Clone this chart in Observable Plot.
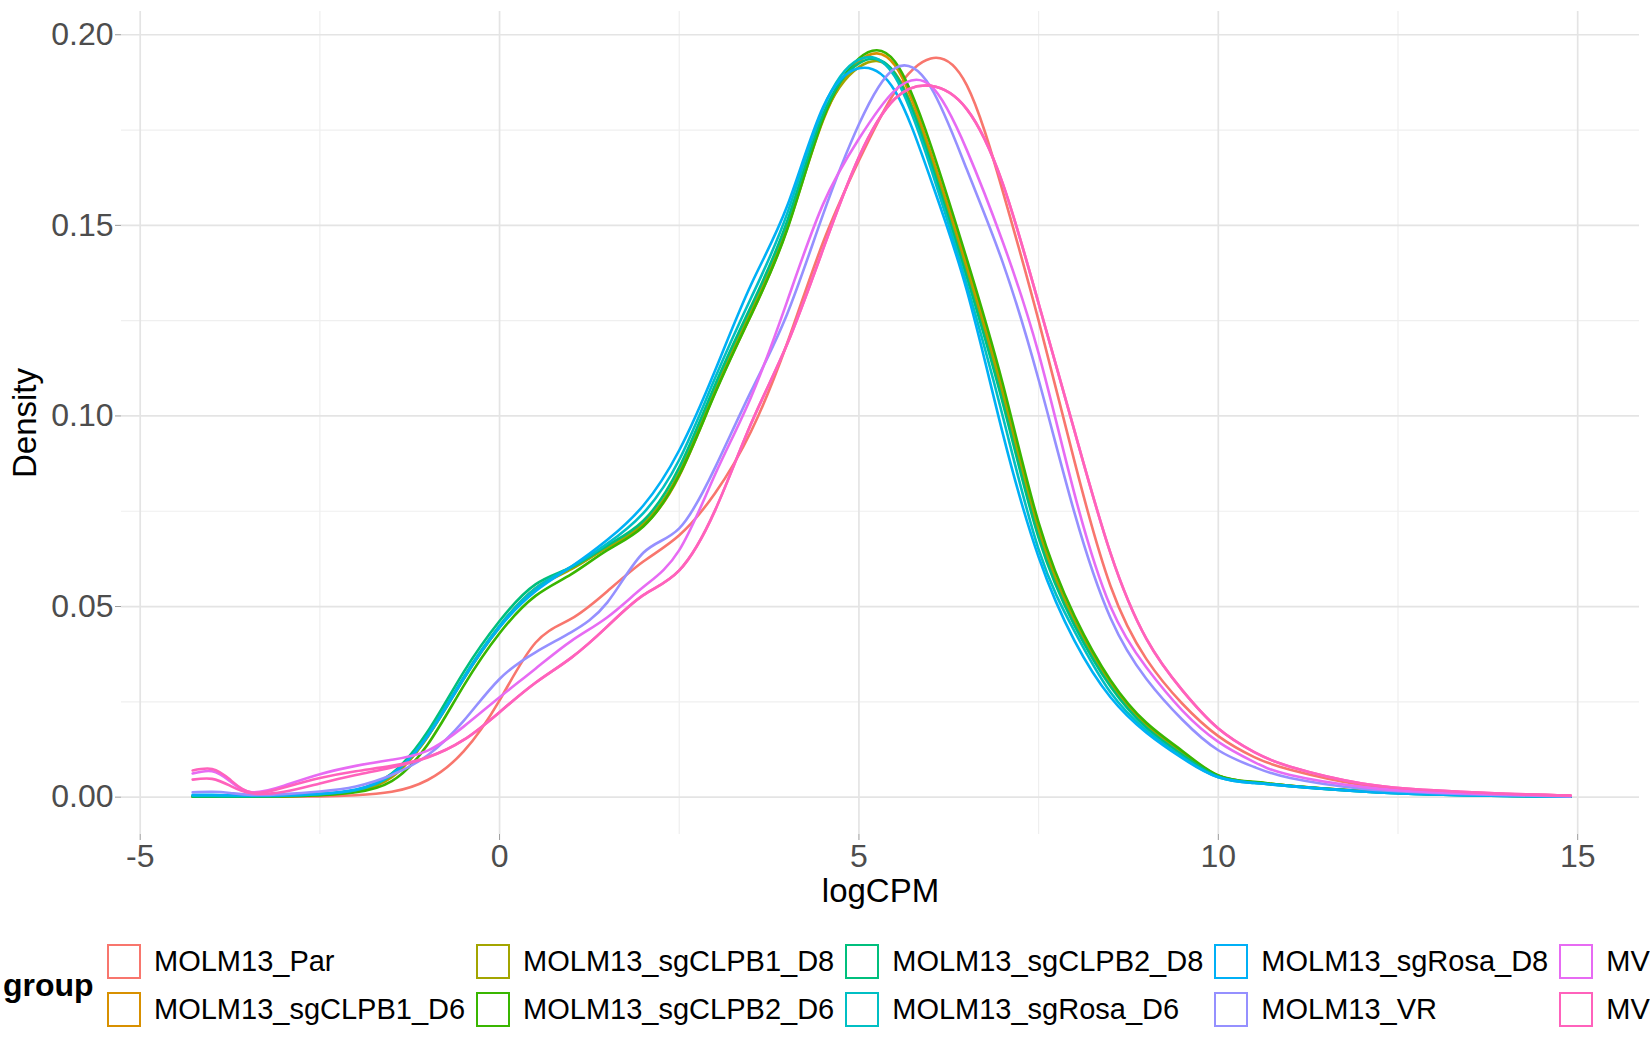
<!DOCTYPE html>
<html><head><meta charset="utf-8">
<script src="https://cdn.jsdelivr.net/npm/d3@7"></script>
<script src="https://cdn.jsdelivr.net/npm/@observablehq/plot@0.6"></script>
<style>
html,body{margin:0;padding:0;background:#fff;}
body{width:1650px;height:1050px;overflow:hidden;position:relative;font-family:"Liberation Sans",Arial,sans-serif;}
#chart{position:absolute;left:0;top:0;}
#legend-title{position:absolute;left:3px;top:969px;font-size:32px;font-weight:bold;line-height:32px;color:#000;}
#legend{position:absolute;left:107px;top:944px;display:grid;grid-template-rows:35px 35px;row-gap:13px;grid-auto-flow:column;column-gap:11px;white-space:nowrap;}
.item{display:flex;align-items:center;height:35px;}
.key{width:34px;height:35px;box-sizing:border-box;border:2.6px solid;margin-right:13px;flex:none;}
.lab{font-size:29px;line-height:35px;color:#000;}
</style></head><body>
<div id="chart"></div>
<div id="legend-title">group</div>
<div id="legend"></div>
<script>
const xs = [-4.27,-4.0,-3.75,-3.45,-3.0,-2.5,-2.0,-1.5,-1.0,-0.5,0,0.5,1,1.5,2,2.5,3,3.5,4,4.5,5,5.5,6,6.5,7,7.5,8,8.5,9,9.5,10,10.5,11,12,13,14,14.9];

const groups = ["MOLM13_Par","MOLM13_sgCLPB1_D6","MOLM13_sgCLPB1_D8","MOLM13_sgCLPB2_D6","MOLM13_sgCLPB2_D8","MOLM13_sgRosa_D6","MOLM13_sgRosa_D8","MOLM13_VR","MV4_11_Par","MV4_11_VR"];
const colors = ["#F8766D","#D89000","#A3A500","#39B600","#00BF7D","#00BFC4","#00B0F6","#9590FF","#E76BF3","#FF62BC"];

const xTicks = [-5,0,5,10,15];
const xMinor = [-2.5,2.5,7.5,12.5];
const yTicks = [0,0.05,0.10,0.15,0.20];
const yMinor = [0.025,0.075,0.125,0.175];

// density per sample (one curve per sample, coloured by group)
const dPar     = [0.0001,0.0001,0.0001,0.0001,0.0001,0.0002,0.0005,0.0014,0.0045,0.0120,0.0254,0.0405,0.0468,0.0540,0.0618,0.0687,0.0798,0.0960,0.1190,0.1455,0.1670,0.1850,0.1938,0.1868,0.1590,0.1250,0.0880,0.0554,0.0362,0.0245,0.0160,0.0105,0.0072,0.0032,0.0016,0.0008,0.0004];
const dB1D6    = [0.0002,0.0002,0.0002,0.0002,0.0003,0.0006,0.0015,0.0052,0.0160,0.0312,0.0448,0.0548,0.0600,0.0655,0.0712,0.0843,0.1062,0.1265,0.1490,0.1775,0.1930,0.1920,0.1690,0.1395,0.1065,0.0703,0.0462,0.0300,0.0190,0.0118,0.0056,0.0039,0.0030,0.0016,0.0008,0.0004,0.0001];
const dB1D8    = [0.0002,0.0002,0.0002,0.0002,0.0003,0.0006,0.0015,0.0054,0.0158,0.0310,0.0446,0.0546,0.0598,0.0656,0.0718,0.0852,0.1075,0.1278,0.1500,0.1780,0.1915,0.1900,0.1675,0.1378,0.1052,0.0693,0.0458,0.0297,0.0188,0.0116,0.0056,0.0039,0.0030,0.0016,0.0008,0.0004,0.0001];
const dB2D6    = [0.0001,0.0001,0.0001,0.0001,0.0002,0.0005,0.0013,0.0042,0.0138,0.0292,0.0430,0.0528,0.0585,0.0648,0.0710,0.0845,0.1060,0.1265,0.1488,0.1778,0.1938,0.1930,0.1710,0.1412,0.1085,0.0720,0.0475,0.0307,0.0195,0.0121,0.0057,0.0040,0.0030,0.0016,0.0008,0.0004,0.0001];
const dB2D8    = [0.0002,0.0002,0.0002,0.0002,0.0004,0.0008,0.0019,0.0062,0.0172,0.0328,0.0462,0.0558,0.0603,0.0660,0.0725,0.0865,0.1082,0.1288,0.1510,0.1790,0.1925,0.1898,0.1665,0.1365,0.1035,0.0680,0.0450,0.0290,0.0182,0.0111,0.0054,0.0038,0.0029,0.0015,0.0007,0.0003,0.0001];
const dRosaD6  = [0.0004,0.0004,0.0003,0.0003,0.0004,0.0008,0.0018,0.0058,0.0163,0.0315,0.0450,0.0548,0.0605,0.0665,0.0745,0.0885,0.1100,0.1310,0.1530,0.1805,0.1935,0.1890,0.1650,0.1345,0.1000,0.0650,0.0435,0.0275,0.0175,0.0105,0.0052,0.0037,0.0029,0.0015,0.0007,0.0003,0.0001];
const dRosaD8  = [0.0006,0.0006,0.0005,0.0004,0.0005,0.0009,0.0020,0.0060,0.0160,0.0310,0.0445,0.0540,0.0605,0.0675,0.0765,0.0910,0.1120,0.1345,0.1550,0.1810,0.1912,0.1853,0.1620,0.1330,0.0955,0.0630,0.0410,0.0262,0.0169,0.0102,0.0052,0.0037,0.0029,0.0015,0.0007,0.0003,0.0001];
const dVR      = [0.0013,0.0014,0.0011,0.0006,0.0008,0.0015,0.0028,0.0058,0.0110,0.0200,0.0310,0.0380,0.0433,0.0511,0.0641,0.0705,0.0865,0.1065,0.1267,0.1528,0.1765,0.1912,0.1862,0.1647,0.1403,0.1095,0.0745,0.0470,0.0310,0.0203,0.0123,0.0079,0.0050,0.0022,0.0011,0.0005,0.0002];
const dMV4Par  = [0.0062,0.0068,0.0042,0.0013,0.0030,0.0060,0.0082,0.0098,0.0122,0.0185,0.0262,0.0337,0.0410,0.0472,0.0551,0.0648,0.0847,0.1050,0.1300,0.1555,0.1727,0.1854,0.1866,0.1698,0.1457,0.1164,0.0795,0.0500,0.0340,0.0227,0.0145,0.0092,0.0058,0.0027,0.0013,0.0007,0.0003];
const dMV4VRa  = [0.0070,0.0074,0.0046,0.0012,0.0025,0.0050,0.0068,0.0082,0.0105,0.0150,0.0223,0.0300,0.0366,0.0448,0.0530,0.0595,0.0753,0.0980,0.1188,0.1437,0.1679,0.1832,0.1866,0.1805,0.1610,0.1295,0.0960,0.0640,0.0415,0.0280,0.0180,0.0118,0.0080,0.0036,0.0018,0.0009,0.0004];
const dMV4VRb  = [0.0046,0.0048,0.0030,0.0010,0.0014,0.0036,0.0058,0.0078,0.0104,0.0150,0.0223,0.0300,0.0366,0.0448,0.0530,0.0595,0.0753,0.0980,0.1188,0.1437,0.1679,0.1832,0.1866,0.1805,0.1610,0.1295,0.0960,0.0640,0.0415,0.0280,0.0180,0.0118,0.0080,0.0036,0.0018,0.0009,0.0004];

const sampleIds    = ["Par","B1D6","B1D8","B2D6","B2D8","RosaD6","RosaD8","VR","MV4Par","MV4VRa","MV4VRb"];
const sampleGroups = ["MOLM13_Par","MOLM13_sgCLPB1_D6","MOLM13_sgCLPB1_D8","MOLM13_sgCLPB2_D6","MOLM13_sgCLPB2_D8","MOLM13_sgRosa_D6","MOLM13_sgRosa_D8","MOLM13_VR","MV4_11_Par","MV4_11_VR","MV4_11_VR"];
const sampleValues = [dPar,dB1D6,dB1D8,dB2D6,dB2D8,dRosaD6,dRosaD8,dVR,dMV4Par,dMV4VRa,dMV4VRb];

const rows = [];
sampleIds.forEach((id, i) => {
  xs.forEach((x, j) => rows.push({sample: id, group: sampleGroups[i], x, d: sampleValues[i][j]}));
});

const chart = Plot.plot({
  width: 1650,
  height: 920,
  marginLeft: 121,
  marginRight: 11,
  marginTop: 11,
  marginBottom: 86,
  style: {fontFamily: "'Liberation Sans', Arial, sans-serif", fontSize: "32px", background: "#fff"},
  x: {domain: [-5.26, 15.86]},
  y: {domain: [-0.0098, 0.2061]},
  color: {domain: groups, range: colors},
  marks: [
    Plot.gridX(xMinor, {stroke: "#EFEFEF", strokeOpacity: 1, strokeWidth: 1.2}),
    Plot.gridY(yMinor, {stroke: "#EFEFEF", strokeOpacity: 1, strokeWidth: 1.2}),
    Plot.gridX(xTicks, {stroke: "#E4E4E4", strokeOpacity: 1, strokeWidth: 1.7}),
    Plot.gridY(yTicks, {stroke: "#E4E4E4", strokeOpacity: 1, strokeWidth: 1.7}),
    Plot.axisX(xTicks, {tickSize: 6, tickPadding: 4, fontSize: 32, fill: "#4D4D4D", stroke: "#9A9A9A", label: null, tickFormat: d => String(d)}),
    Plot.axisY(yTicks, {tickSize: 6, tickPadding: 2, fontSize: 32, fill: "#4D4D4D", stroke: "#9A9A9A", label: null, tickFormat: d => d.toFixed(2)}),
    Plot.line(rows, {x: "x", y: "d", z: "sample", stroke: "group", curve: "natural", strokeWidth: 2.6}),
    Plot.text(["logCPM"], {frameAnchor: "bottom", lineAnchor: "top", dy: 44, fontSize: 33, fill: "#000"}),
    Plot.text(["Density"], {frameAnchor: "left", rotate: -90, lineAnchor: "middle", textAnchor: "middle", dx: -96, fontSize: 33, fill: "#000"})
  ]
});
document.getElementById("chart").appendChild(chart);

const legend = document.getElementById("legend");
groups.forEach((g, i) => {
  const item = document.createElement("div");
  item.className = "item";
  const key = document.createElement("div");
  key.className = "key";
  key.style.borderColor = colors[i];
  const lab = document.createElement("span");
  lab.className = "lab";
  lab.textContent = g;
  item.appendChild(key);
  item.appendChild(lab);
  legend.appendChild(item);
});
</script>
</body></html>
